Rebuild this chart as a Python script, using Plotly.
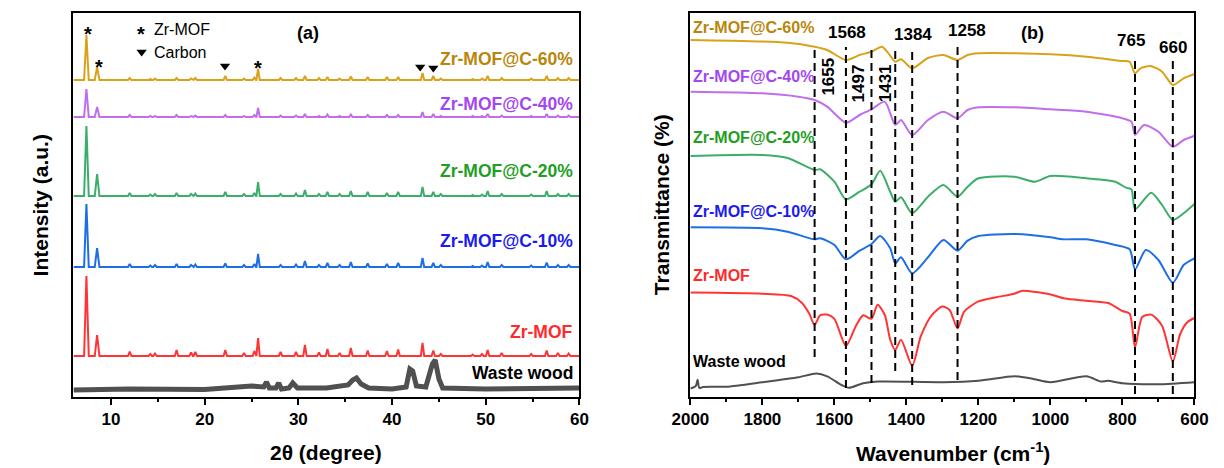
import plotly.graph_objects as go

FONT = "Liberation Sans, Arial, sans-serif"
W, H = 1224, 468


def px(x):
    return x / W


def py(y):
    return 1 - y / H


# ---------------- XRD patterns, panel (a) ----------------
two_theta_peaks = [7.38, 8.52, 12.0, 14.2, 14.7, 17.0, 18.55, 19.0, 22.2, 24.2, 25.3, 25.7,
                   28.1, 29.75, 30.7, 32.2, 33.1, 34.4, 35.6, 37.4, 39.45, 40.65, 43.25, 44.4,
                   45.2, 48.6, 49.6, 50.2, 51.7, 54.85, 56.5, 57.7, 58.85]

xrd_zrmof = [80, 21, 4.5, 2, 2.5, 6, 3.5, 4, 6, 3, 5, 18, 4, 4, 11, 3.5, 7, 3, 8, 5.5, 5, 6.5,
             13, 5.5, 2, 1.5, 2, 6, 3, 2, 5.5, 3, 2.5]
xrd_c10 = [63, 19, 3, 1.5, 2, 3, 2, 2.5, 3.5, 2, 3, 13, 2, 2.5, 6, 2, 4, 2, 5, 3.5, 3, 4,
           9, 4, 2, 1, 1.5, 5, 2, 1.5, 4.5, 2, 2]
xrd_c20 = [70, 22, 3, 1.5, 2, 3, 2, 2.5, 4, 2, 3, 14, 2, 2.5, 6, 2, 4, 2, 5, 4, 3, 4,
           9, 4, 2, 1, 1.5, 5, 2, 1.5, 5, 2, 2]
xrd_c40 = [28, 10, 2, 1, 1, 2, 1, 1.5, 2, 1, 2, 9, 1.5, 1.5, 3, 1, 2.5, 1, 2.5, 2, 2, 2,
           5, 3, 1, 1, 1, 3, 1.5, 1, 3, 1.5, 1.5]
xrd_c60 = [45, 13, 2, 1, 1.5, 2, 1.5, 2, 4, 1.5, 2.5, 11, 2, 2, 4, 2, 3, 1.5, 3.5, 3, 3, 3,
           7, 4, 1.5, 1, 1.5, 4, 2, 1.5, 4, 2, 2]

# stacking offsets of the XRD traces (a.u.)
xrd_offsets = {"Zr-MOF": 41, "C-10": 130, "C-20": 201, "C-40": 280, "C-60": 317}

# waste wood: broad amorphous pattern
wood_2theta = [6, 12, 20, 22.5, 24, 25, 26.3, 26.6, 26.9, 27.6, 27.9, 28.2, 29.0, 29.4, 29.9,
               33, 35.3, 35.8, 36.2, 36.7, 37.5, 40, 41.5, 41.9, 42.2, 42.6, 43.6, 44.3, 44.6,
               45.0, 45.4, 50, 55, 60]
wood_xrd = [7, 8, 7.5, 9, 10, 11, 10, 15, 9, 9, 14, 8, 9, 14, 9, 9, 12, 17, 19, 13, 9, 8, 10,
            28, 26, 11, 10, 33, 37, 18, 9, 8, 8.5, 9]

# ---------------- FTIR spectra, panel (b) ----------------
wn_c60 = [2000, 1730, 1655, 1620, 1568, 1530, 1497, 1468, 1450, 1431, 1415, 1384, 1340, 1297,
          1258, 1230, 1200, 1100, 1000, 900, 800, 780, 765, 750, 722, 690, 660, 630, 600]
ftir_c60 = [357, 354.3, 350.3, 347, 337, 342, 345.3, 350.3, 343.7, 335.3, 337.7, 328.7, 339,
            342, 337, 342, 343.7, 343.7, 342.7, 340.3, 336, 335.3, 323.7, 328.7, 331, 325.3,
            312, 318.7, 323]

wn_c40 = [2000, 1800, 1700, 1655, 1620, 1568, 1530, 1497, 1460, 1431, 1415, 1384, 1340, 1297,
          1258, 1230, 1200, 1100, 1000, 900, 800, 775, 765, 740, 700, 660, 630, 600]
ftir_c40 = [305.3, 303.7, 300.3, 297, 290.3, 274.3, 282, 287.7, 295.3, 272, 277, 262, 277,
            285.3, 278.7, 287, 289.7, 289.7, 287.7, 285.3, 278.7, 275.3, 262, 272, 265.3,
            250.3, 257, 261.3]

wn_c20 = [2000, 1800, 1730, 1655, 1640, 1600, 1568, 1530, 1497, 1473, 1445, 1431, 1415, 1384,
          1340, 1297, 1258, 1230, 1200, 1100, 1043, 1000, 900, 820, 790, 775, 765, 720, 690,
          660, 630, 600]
ftir_c20 = [241, 242, 239, 227, 227.7, 215.3, 197.7, 205.3, 212.7, 226.3, 205.3, 195.3, 199.7,
            183.7, 200.3, 212, 200.3, 210.3, 218.7, 220.3, 215.3, 221, 218.7, 215.3, 209.3,
            207.7, 187.7, 204.3, 192, 177, 183.7, 193]

wn_c10 = [2000, 1800, 1730, 1655, 1640, 1600, 1568, 1530, 1497, 1473, 1445, 1431, 1415, 1384,
          1340, 1297, 1258, 1230, 1200, 1100, 1000, 966, 900, 820, 780, 765, 735, 700, 660,
          630, 600]
ftir_c10 = [169.7, 168.7, 165.3, 157.7, 158.7, 152, 137.7, 146.3, 153, 161, 148.7, 133.7,
            139.7, 123.7, 139.7, 157, 146.3, 156.3, 161, 163, 159.7, 157.7, 157.7, 152, 147.7,
            127.7, 147, 137, 114.3, 132, 138.7]

wn_zrmof = [2000, 1800, 1720, 1690, 1670, 1655, 1640, 1620, 1600, 1568, 1540, 1520, 1497,
            1480, 1460, 1445, 1431, 1415, 1384, 1360, 1330, 1300, 1280, 1258, 1240, 1200,
            1150, 1100, 1080, 1000, 960, 900, 840, 800, 780, 765, 745, 720, 690, 660, 640,
            620, 600]
ftir_zrmof = [104.4, 103.3, 101, 94, 83.4, 72, 81.7, 82.4, 78.2, 51, 71.3, 81.7, 78.2, 92.2,
              82, 57.3, 47, 57.3, 31.2, 60.8, 81.7, 90.4, 87, 68.5, 85.2, 95.6, 99.8, 103.3,
              106.1, 102.6, 98.4, 96.3, 94, 86, 83.4, 49.6, 80, 82.4, 71.3, 35.7, 62.5, 74.7, 79]

wn_wood = [2000, 1985, 1980, 1975, 1965, 1900, 1800, 1700, 1650, 1620, 1580, 1560, 1520, 1480,
           1300, 1200, 1100, 1050, 1000, 900, 860, 840, 800, 700, 600]
ftir_wood = [8.5, 11, 17.2, 9, 10, 10.3, 14.8, 19.7, 23.5, 20.7, 12, 9.2, 13.8, 15.5, 14.8,
             16.2, 20.7, 18.3, 14.8, 20.7, 15.5, 16.2, 13.8, 12.7, 14.8]

# characteristic bands marked with dashed lines
band_wn = [1655, 1568, 1497, 1431, 1384, 1258, 765, 660]

# colours (line, label)
C_GOLD, T_GOLD = "#D9A21B", "#B8860B"
C_PURP, T_PURP = "#C06EEA", "#A347F0"
C_GREEN, T_GREEN = "#3DAE6A", "#1F9E1F"
C_BLUE, T_BLUE = "#1E6EE6", "#1B1BF0"
C_RED, T_RED = "#FF3535", "#FF2A2A"
C_GRAY = "#505050"


def stick_profile(base, heights):
    """Baseline with narrow triangular reflections at the listed 2-theta positions."""
    xs, ys = [6.0], [base]
    for i, (p, h) in enumerate(zip(two_theta_peaks, heights)):
        hw = 0.25 if i < 2 else 0.18
        xs += [p - hw, p, p + hw]
        ys += [base, base + h, base]
    xs.append(60.0)
    ys.append(base)
    return xs, ys


fig = go.Figure()

# panel (a) traces
fig.add_trace(go.Scatter(x=wood_2theta, y=wood_xrd, mode="lines",
                         line=dict(color=C_GRAY, width=5), xaxis="x", yaxis="y"))
for heights, key, col in [(xrd_zrmof, "Zr-MOF", C_RED), (xrd_c10, "C-10", C_BLUE),
                          (xrd_c20, "C-20", C_GREEN), (xrd_c40, "C-40", C_PURP),
                          (xrd_c60, "C-60", C_GOLD)]:
    xs, ys = stick_profile(xrd_offsets[key], heights)
    fig.add_trace(go.Scatter(x=xs, y=ys, mode="lines", line=dict(color=col, width=2),
                             xaxis="x", yaxis="y"))

# carbon reflections (triangles) and legend marker
fig.add_trace(go.Scatter(x=[22.17, 43.0, 44.4, 13.27], y=[331, 330, 329, 345], mode="markers",
                         marker=dict(symbol="triangle-down", size=9, color="black"),
                         xaxis="x", yaxis="y"))

# panel (b) traces
for wn, vals, col in [(wn_wood, ftir_wood, C_GRAY), (wn_zrmof, ftir_zrmof, C_RED),
                      (wn_c10, ftir_c10, C_BLUE), (wn_c20, ftir_c20, C_GREEN),
                      (wn_c40, ftir_c40, C_PURP), (wn_c60, ftir_c60, C_GOLD)]:
    fig.add_trace(go.Scatter(x=wn, y=vals, mode="lines",
                             line=dict(color=col, width=2, shape="spline", smoothing=0.7),
                             xaxis="x2", yaxis="y2"))

# dashed band markers
band_top = [350, 350, 350, 347, 347, 354, 339, 339]
band_bottom = [40, 9, 14, 26, 12, 17, 3, 3]
shapes = []
for wn, y0, y1 in zip(band_wn, band_bottom, band_top):
    shapes.append(dict(type="line", xref="x2", yref="y2", x0=wn, x1=wn, y0=y0, y1=y1,
                       line=dict(color="black", width=2, dash="8px,5px")))

ann = []


def label(text, x, y, color="black", size=17, bold=True, xanchor="center", angle=0,
          xref="paper", xshift=0):
    ann.append(dict(text=text, x=x, y=py(y), xref=xref, yref="paper", showarrow=False,
                    xanchor=xanchor, yanchor="middle", textangle=angle, xshift=xshift,
                    font=dict(family=FONT, size=size, color=color,
                              weight="bold" if bold else "normal")))


# panel (a) labels
for text, y, col in [("Zr-MOF@C-60%", 59, T_GOLD), ("Zr-MOF@C-40%", 104, T_PURP),
                     ("Zr-MOF@C-20%", 171, T_GREEN), ("Zr-MOF@C-10%", 241, T_BLUE),
                     ("Zr-MOF", 332, T_RED), ("Waste wood", 373, "black")]:
    label(text, px(571), y, col, size=17.5, xanchor="right")
label("(a)", px(297), 33, size=18)
label("Zr-MOF", px(137), 30, size=16, bold=False, xanchor="left")
label("Carbon", px(137), 52, size=16, bold=False, xanchor="left")
# Zr-MOF reflections
for x, y in [(7.56, 34), (8.73, 67), (25.7, 68)]:
    label("*", x, y, size=20, xref="x")
label("*", px(125), 34, size=20)

# panel (b) labels
for text, y, col in [("Zr-MOF@C-60%", 27, T_GOLD), ("Zr-MOF@C-40%", 77, T_PURP),
                     ("Zr-MOF@C-20%", 137, T_GREEN), ("Zr-MOF@C-10%", 212, T_BLUE),
                     ("Zr-MOF", 275, T_RED), ("Waste wood", 361, "black")]:
    label(text, px(691), y, col, size=16, xanchor="left")
label("(b)", px(1042), 33, size=18)

# band wavenumber labels
band_label_pos = {1655: (14, 77, -90), 1568: (1, 33, 0), 1497: (-13, 83, -90),
                  1431: (-10, 83, -90), 1384: (1, 35, 0), 1258: (9, 31, 0),
                  765: (-4, 40, 0), 660: (0, 48, 0)}
for wn in band_wn:
    dx, y, ang = band_label_pos[wn]
    label(str(wn), wn, y, size=17, xref="x2", xshift=dx, angle=ang)

# axis titles
label("2θ (degree)", px(316), 452, size=21)
label("Wavenumber (cm<sup>-1</sup>)", px(960), 452, size=21)
label("Intensity (a.u.)", px(22), 205, size=21, angle=-90)
label("Transmittance (%)", px(660), 205, size=21, angle=-90)

y_dom = [py(397), py(13)]
axis_common = dict(showline=True, mirror=True, linecolor="black", linewidth=2,
                   showgrid=False, zeroline=False)
tick_font = dict(family=FONT, size=17, color="black", weight="bold")

fig.update_layout(
    width=W, height=H, margin=dict(l=0, r=0, t=0, b=0),
    paper_bgcolor="white", plot_bgcolor="white", showlegend=False, hovermode=False,
    xaxis=dict(domain=[px(56), px(576)], range=[6, 60], tick0=0, dtick=10, ticks="outside",
               ticklen=6, tickwidth=2, tickcolor="black", tickfont=tick_font,
               minor=dict(dtick=5, ticks="outside", ticklen=3, tickwidth=1.5,
                          tickcolor="black"),
               anchor="y", **axis_common),
    yaxis=dict(domain=y_dom, range=[0, 384], showticklabels=False, ticks="",
               anchor="x", **axis_common),
    xaxis2=dict(domain=[px(690), px(1208)], range=[2000, 600], tick0=0, dtick=200,
                ticks="outside", ticklen=6, tickwidth=2, tickcolor="black",
                tickfont=tick_font,
                minor=dict(dtick=100, ticks="outside", ticklen=3, tickwidth=1.5,
                           tickcolor="black"),
                anchor="y2", **axis_common),
    yaxis2=dict(domain=y_dom, range=[0, 384], showticklabels=False, ticks="",
                anchor="x2", **axis_common),
    shapes=shapes,
    annotations=ann,
)

fig.write_html("out.html")
